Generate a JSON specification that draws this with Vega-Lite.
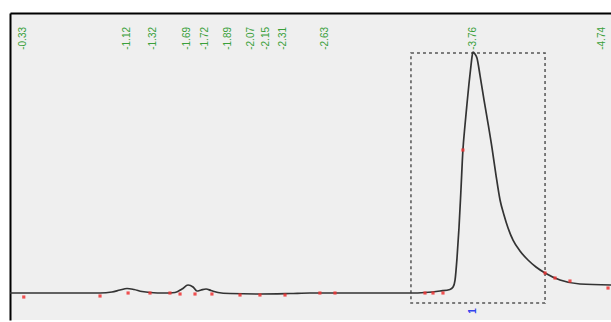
{
  "$schema": "https://vega.github.io/schema/vega-lite/v6.json",
  "width": 601,
  "height": 307,
  "autosize": {"type": "none"},
  "padding": {"left": 10, "top": 13, "right": 0, "bottom": 2},
  "background": "white",
  "config": {
    "view": {"fill": "#efefef", "stroke": null},
    "axis": {"domainColor": "#000000", "domainWidth": 2, "labels": false, "ticks": false, "grid": false, "title": null}
  },
  "datasets": {
    "curve": [
      {"t": 0.231, "v": 0}, {"t": 0.612, "v": 0}, {"t": 0.917, "v": 0},
      {"t": 1.008, "v": 0.41}, {"t": 1.069, "v": 1.24}, {"t": 1.123, "v": 1.87},
      {"t": 1.176, "v": 1.45}, {"t": 1.237, "v": 0.62}, {"t": 1.298, "v": 0.21},
      {"t": 1.412, "v": 0}, {"t": 1.489, "v": 0.21}, {"t": 1.542, "v": 1.66},
      {"t": 1.588, "v": 3.32}, {"t": 1.626, "v": 2.49}, {"t": 1.656, "v": 0.83},
      {"t": 1.687, "v": 1.24}, {"t": 1.725, "v": 1.66}, {"t": 1.763, "v": 1.04},
      {"t": 1.816, "v": 0.21}, {"t": 1.908, "v": -0.21}, {"t": 2.136, "v": -0.41},
      {"t": 2.365, "v": -0.21}, {"t": 2.517, "v": 0}, {"t": 2.822, "v": 0},
      {"t": 3.287, "v": 0}, {"t": 3.394, "v": 0.21}, {"t": 3.508, "v": 0.83},
      {"t": 3.584, "v": 1.45}, {"t": 3.608, "v": 2.49}, {"t": 3.623, "v": 5.39},
      {"t": 3.638, "v": 14.52}, {"t": 3.653, "v": 26.97}, {"t": 3.668, "v": 42.74},
      {"t": 3.683, "v": 59.34}, {"t": 3.699, "v": 69.71}, {"t": 3.714, "v": 78.42},
      {"t": 3.729, "v": 86.72}, {"t": 3.745, "v": 94.61}, {"t": 3.752, "v": 97.93},
      {"t": 3.76, "v": 100}, {"t": 3.775, "v": 99.17}, {"t": 3.79, "v": 97.51},
      {"t": 3.813, "v": 90.46}, {"t": 3.844, "v": 80.08}, {"t": 3.874, "v": 70.54},
      {"t": 3.905, "v": 60.17}, {"t": 3.935, "v": 48.96}, {"t": 3.966, "v": 38.59},
      {"t": 3.996, "v": 32.37}, {"t": 4.027, "v": 26.97}, {"t": 4.065, "v": 21.99},
      {"t": 4.118, "v": 17.43}, {"t": 4.179, "v": 13.69}, {"t": 4.24, "v": 10.79},
      {"t": 4.309, "v": 8.3}, {"t": 4.423, "v": 5.39},
      {"t": 4.575, "v": 3.73}, {"t": 4.812, "v": 3.32}
    ],
    "marks": [
      {"t": 0.336, "v": -1.66}, {"t": 0.917, "v": -1.24}, {"t": 1.131, "v": 0},
      {"t": 1.298, "v": 0}, {"t": 1.45, "v": 0}, {"t": 1.527, "v": -0.41},
      {"t": 1.641, "v": -0.41}, {"t": 1.77, "v": -0.41}, {"t": 1.984, "v": -0.83},
      {"t": 2.136, "v": -0.83}, {"t": 2.327, "v": -0.83}, {"t": 2.593, "v": 0},
      {"t": 2.708, "v": 0}, {"t": 3.394, "v": 0}, {"t": 3.455, "v": 0},
      {"t": 3.531, "v": 0}, {"t": 3.683, "v": 59.34}, {"t": 4.309, "v": 8.3},
      {"t": 4.385, "v": 6.22}, {"t": 4.499, "v": 4.98}, {"t": 4.789, "v": 2.07}
    ],
    "peaks": [
      {"t": 0.33, "label": "-0.33"}, {"t": 1.12, "label": "-1.12"},
      {"t": 1.32, "label": "-1.32"}, {"t": 1.69, "label": "-1.69"},
      {"t": 1.72, "label": "-1.72"}, {"t": 1.89, "label": "-1.89"},
      {"t": 2.07, "label": "-2.07"}, {"t": 2.15, "label": "-2.15"},
      {"t": 2.31, "label": "-2.31"}, {"t": 2.63, "label": "-2.63"},
      {"t": 3.76, "label": "-3.76"}, {"t": 4.74, "label": "-4.74"}
    ],
    "box": [{"t": 3.287, "t2": 4.309, "v": 99.6, "v2": -4.15}],
    "num": [{"t": 3.76, "v": -7.47, "label": "1"}]
  },
  "layer": [
    {
      "data": {"name": "box"},
      "mark": {"type": "rect", "fill": null, "stroke": "#555555", "strokeWidth": 1.5, "strokeDash": [3, 3]},
      "encoding": {
        "x": {"field": "t", "type": "quantitative", "scale": {"domain": [0.2309, 4.8117], "nice": false, "zero": false}, "axis": {"orient": "top"}},
        "x2": {"field": "t2"},
        "y": {"field": "v", "type": "quantitative", "scale": {"domain": [-11.2, 116.2], "nice": false, "zero": false}, "axis": {"orient": "left"}},
        "y2": {"field": "v2"}
      }
    },
    {
      "data": {"name": "curve"},
      "mark": {"type": "line", "stroke": "#333333", "strokeWidth": 1.7, "interpolate": "monotone"},
      "encoding": {
        "x": {"field": "t", "type": "quantitative", "scale": {"domain": [0.2309, 4.8117], "nice": false, "zero": false}, "axis": {"orient": "top"}},
        "y": {"field": "v", "type": "quantitative", "scale": {"domain": [-11.2, 116.2], "nice": false, "zero": false}, "axis": {"orient": "left"}}
      }
    },
    {
      "data": {"name": "marks"},
      "mark": {"type": "point", "shape": "square", "filled": true, "color": "#ee3333", "size": 10, "opacity": 0.85},
      "encoding": {
        "x": {"field": "t", "type": "quantitative", "scale": {"domain": [0.2309, 4.8117], "nice": false, "zero": false}, "axis": {"orient": "top"}},
        "y": {"field": "v", "type": "quantitative", "scale": {"domain": [-11.2, 116.2], "nice": false, "zero": false}, "axis": {"orient": "left"}}
      }
    },
    {
      "data": {"name": "peaks"},
      "transform": [{"filter": "datum.label != '-1.69' && datum.label != '-2.15'"}],
      "mark": {"type": "text", "angle": 270, "align": "right", "baseline": "middle", "font": "Liberation Sans", "fontSize": 10, "color": "#3aa03a"},
      "encoding": {
        "x": {"field": "t", "type": "quantitative", "scale": {"domain": [0.2309, 4.8117], "nice": false, "zero": false}, "axis": {"orient": "top"}},
        "y": {"datum": 110.4, "type": "quantitative", "scale": {"domain": [-11.2, 116.2], "nice": false, "zero": false}, "axis": {"orient": "left"}},
        "text": {"field": "label"}
      }
    },
    {
      "data": {"name": "peaks"},
      "transform": [{"filter": "datum.label == '-1.69'"}],
      "mark": {"type": "text", "angle": 270, "align": "right", "baseline": "middle", "font": "Liberation Sans", "fontSize": 10, "color": "#3aa03a", "dy": -14},
      "encoding": {
        "x": {"field": "t", "type": "quantitative", "scale": {"domain": [0.2309, 4.8117], "nice": false, "zero": false}, "axis": {"orient": "top"}},
        "y": {"datum": 110.4, "type": "quantitative", "scale": {"domain": [-11.2, 116.2], "nice": false, "zero": false}, "axis": {"orient": "left"}},
        "text": {"field": "label"}
      }
    },
    {
      "data": {"name": "peaks"},
      "transform": [{"filter": "datum.label == '-2.15'"}],
      "mark": {"type": "text", "angle": 270, "align": "right", "baseline": "middle", "font": "Liberation Sans", "fontSize": 10, "color": "#3aa03a", "dy": 4},
      "encoding": {
        "x": {"field": "t", "type": "quantitative", "scale": {"domain": [0.2309, 4.8117], "nice": false, "zero": false}, "axis": {"orient": "top"}},
        "y": {"datum": 110.4, "type": "quantitative", "scale": {"domain": [-11.2, 116.2], "nice": false, "zero": false}, "axis": {"orient": "left"}},
        "text": {"field": "label"}
      }
    },
    {
      "data": {"name": "num"},
      "mark": {"type": "text", "angle": 270, "align": "center", "baseline": "middle", "font": "Liberation Sans", "fontSize": 10, "fontWeight": "bold", "color": "#3344ee"},
      "encoding": {
        "x": {"field": "t", "type": "quantitative", "scale": {"domain": [0.2309, 4.8117], "nice": false, "zero": false}, "axis": {"orient": "top"}},
        "y": {"field": "v", "type": "quantitative", "scale": {"domain": [-11.2, 116.2], "nice": false, "zero": false}, "axis": {"orient": "left"}},
        "text": {"field": "label"}
      }
    },
    {
      "mark": {"type": "rule", "stroke": "#444444", "strokeWidth": 2},
      "encoding": {
        "y": {"datum": -11.2, "type": "quantitative", "scale": {"domain": [-11.2, 116.2], "nice": false, "zero": false}, "axis": {"orient": "left"}}
      }
    }
  ]
}
